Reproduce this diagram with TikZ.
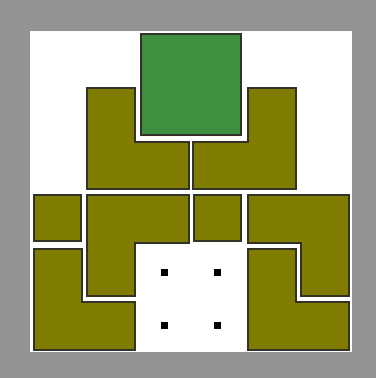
\documentclass[tikz,border=0pt]{standalone}
\definecolor{frame}{RGB}{147,147,147}
\definecolor{oliv}{RGB}{128,124,0}
\definecolor{grn}{RGB}{64,143,64}
\definecolor{edge}{RGB}{50,50,40}
\begin{document}
\begin{tikzpicture}[x=1pt,y=-1pt,
  piece/.style={fill=oliv,draw=edge,line width=1.5pt,line join=miter},
  gpiece/.style={fill=grn,draw=edge,line width=1.5pt},
  dot/.style={fill=black}]
\useasboundingbox (0,0) rectangle (376,378);
\fill[frame] (0,0) rectangle (376,378);
\fill[white] (30,31) rectangle (352,352);
% green square
\draw[gpiece] (141,34) rectangle (241,135);
% top L shapes
\draw[piece] (87,88) -- (135,88) -- (135,142) -- (189,142) -- (189,189) -- (87,189) -- cycle;
\draw[piece] (248,88) -- (296,88) -- (296,189) -- (193,189) -- (193,142) -- (248,142) -- cycle;
% middle row
\draw[piece] (34,195) rectangle (81,241);
\draw[piece] (87,195) -- (189,195) -- (189,243) -- (135,243) -- (135,296) -- (87,296) -- cycle;
\draw[piece] (194,195) rectangle (241,241);
\draw[piece] (248,195) -- (349,195) -- (349,296) -- (301,296) -- (301,243) -- (248,243) -- cycle;
% bottom L shapes
\draw[piece] (34,249) -- (82,249) -- (82,302) -- (135,302) -- (135,350) -- (34,350) -- cycle;
\draw[piece] (248,249) -- (296,249) -- (296,302) -- (349,302) -- (349,350) -- (248,350) -- cycle;
% dots
\foreach \px/\py in {164/272,217/272,164/325,217/325}
  \fill[dot] (\px-3.5,\py-3.5) rectangle (\px+3.5,\py+3.5);
\end{tikzpicture}
\end{document}
